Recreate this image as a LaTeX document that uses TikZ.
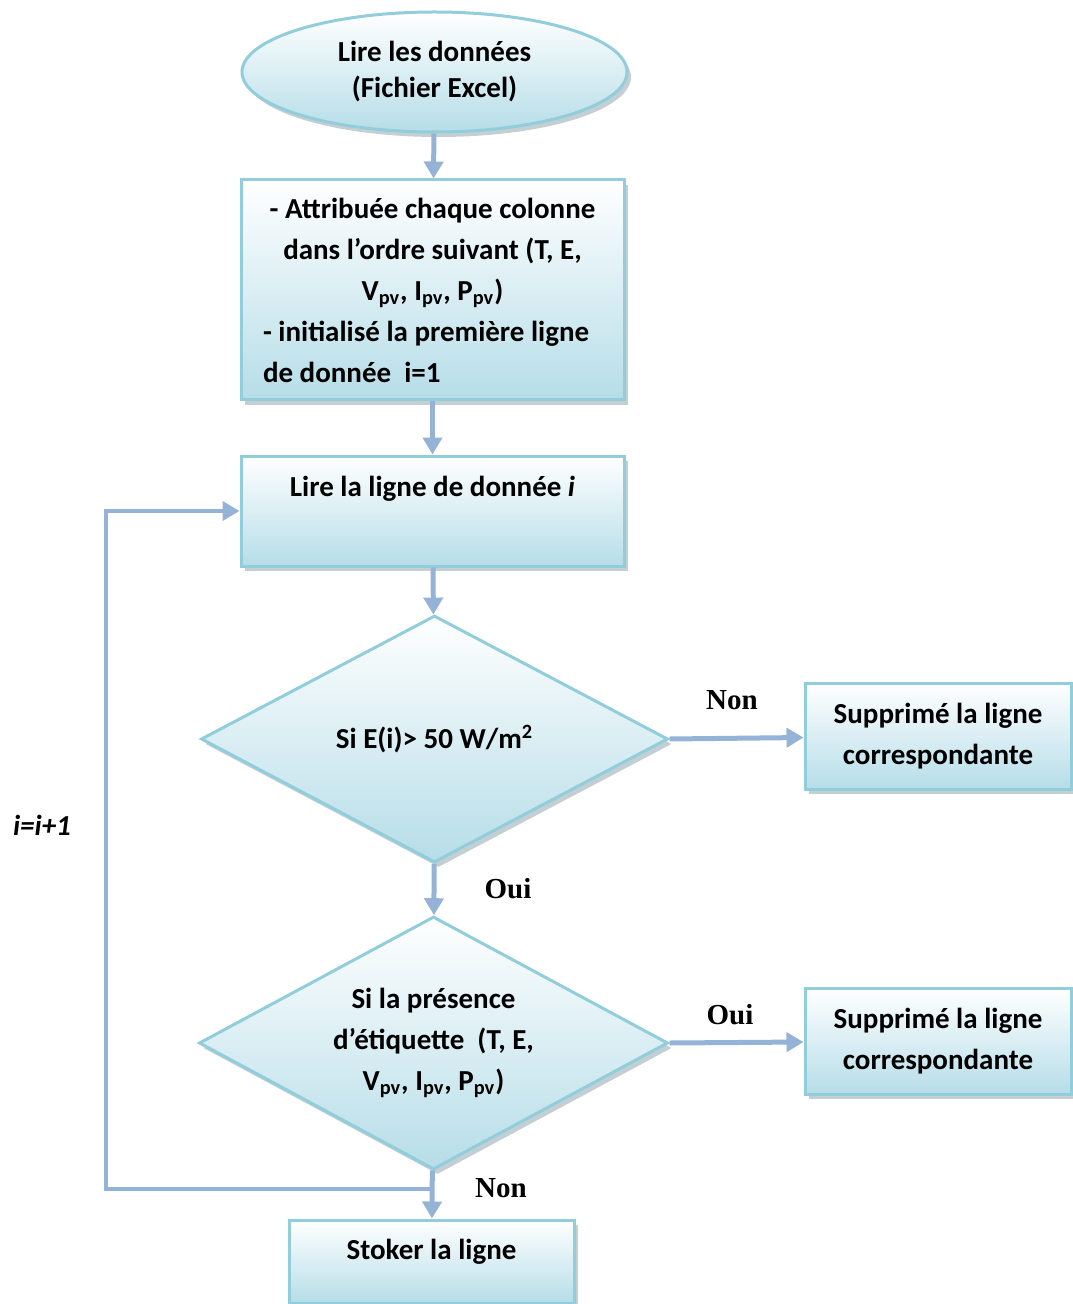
\documentclass[tikz,border=0pt]{standalone}
\usepackage{fontspec}
\setmainfont{Carlito}
\newfontfamily\timesfont{Liberation Serif}
\usetikzlibrary{shapes.geometric,shadows,arrows.meta}

\definecolor{boxline}{RGB}{146,205,220}
\definecolor{boxfill}{RGB}{182,221,232}
\definecolor{boxshadow}{RGB}{135,160,166}
\definecolor{flow}{RGB}{149,179,215}

\tikzstyle{block}=[draw=boxline,line width=1.5pt,top color=white,bottom color=boxfill,
    drop shadow={shadow xshift=2pt,shadow yshift=-2.5pt,fill=boxshadow},
    inner sep=0pt,align=center,font=\fontsize{14.5}{20.5}\selectfont\bfseries]
\tikzstyle{start}=[block,ellipse,font=\fontsize{14.5}{18}\selectfont\bfseries]
\tikzstyle{test}=[block,diamond,shape aspect=1.85]
\tikzstyle{flowedge}=[-{Triangle[width=9.5pt,length=8.5pt]},draw=flow,line width=2.5pt]
\tikzstyle{loopedge}=[flowedge,line width=2pt]
\tikzstyle{answer}=[font=\timesfont\fontsize{14.5}{17}\selectfont\bfseries]
\newcommand{\flushline}[1]{\makebox[169.5pt][l]{#1}}

\begin{document}
\begin{tikzpicture}[x=0.5pt,y=-0.5pt]
\useasboundingbox (0,0) rectangle (1072,1304);
% main column
\node[start,minimum width=192.5pt,minimum height=60pt] (lecture) at (434.5,72)
    {Lire les données\\(Fichier Excel)};
\node[block,minimum width=191.5pt,minimum height=110pt] (init) at (432.5,290)
    {- Attribuée chaque colonne\\
    dans l’ordre suivant (T, E,\\
    V\textsubscript{pv}, I\textsubscript{pv}, P\textsubscript{pv})\\
    \flushline{- initialisé la première ligne}\\
    \flushline{de donnée~~i=1}};
\node[block,minimum width=191.5pt,minimum height=55pt,text height=10pt,text depth=25pt] (ligne) at (432.5,511)
    {Lire la ligne de donnée \textit{i}};
\node[test,minimum width=233.5pt,minimum height=123.5pt] (seuil) at (434.5,739)
    {Si E(i)> 50 W/m\textsuperscript{2}};
\node[test,minimum width=234.5pt,minimum height=126.5pt] (etiq) at (433.5,1043)
    {Si la présence\\d’étiquette~~(T, E,\\V\textsubscript{pv}, I\textsubscript{pv}, P\textsubscript{pv})};
\node[block,minimum width=142.5pt,minimum height=41.5pt,text height=10pt,text depth=12.5pt] (stock) at (431.5,1261.5)
    {Stoker la ligne};
% right column
\node[block,minimum width=133pt,minimum height=53pt] (supp1) at (938,736)
    {Supprimé la ligne\\correspondante};
\node[block,minimum width=133pt,minimum height=53pt] (supp2) at (938,1041)
    {Supprimé la ligne\\correspondante};
% connectors
\draw[flowedge] (lecture) -- (init);
\draw[flowedge] (init) -- (ligne);
\draw[flowedge] (ligne) -- (seuil);
\draw[flowedge] (seuil) -- (etiq);
\draw[flowedge] (etiq) -- (stock);
\draw[flowedge] (seuil.east) -- (supp1);
\draw[flowedge] (etiq.east) -- (supp2);
% back to the next line
\coordinate (retour) at (434,1189);
\coordinate (coin) at (106,1189);
\draw[loopedge] (retour) -- (coin) |- (ligne.west);
% labels
\node[answer] (non1) at (732,700) {Non};
\node[answer] (oui1) at (508,889) {Oui};
\node[answer] (oui2) at (730,1015) {Oui};
\node[answer] (non2) at (501,1188) {Non};
\node[font=\fontsize{14.5}{17}\selectfont\bfseries\itshape] (incr) at (42,825) {i=i+1};
\end{tikzpicture}
\end{document}
